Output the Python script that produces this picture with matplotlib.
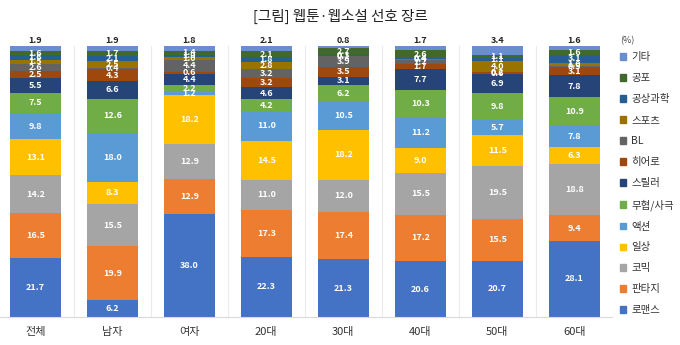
import numpy as np
import matplotlib.pyplot as plt
from matplotlib.patches import Patch

plt.rcParams['font.family'] = ['Noto Sans CJK KR', 'DejaVu Sans']

groups = ['전체', '남자', '여자', '20대', '30대', '40대', '50대', '60대']

# genre shares (%) per group, stacked bottom -> top
romance  = [21.7,  6.2, 38.0, 22.3, 21.3, 20.6, 20.7, 28.1]
fantasy  = [16.5, 19.9, 12.9, 17.3, 17.4, 17.2, 15.5,  9.4]
comic    = [14.2, 15.5, 12.9, 11.0, 12.0, 15.5, 19.5, 18.8]
daily    = [13.1,  8.3, 18.2, 14.5, 18.2,  9.0, 11.5,  6.3]
action   = [ 9.8, 18.0,  1.2, 11.0, 10.5, 11.2,  5.7,  7.8]
martial  = [ 7.5, 12.6,  2.2,  4.2,  6.2, 10.3,  9.8, 10.9]
thriller = [ 5.5,  6.6,  4.4,  4.6,  3.1,  7.7,  6.9,  7.8]
hero     = [ 2.5,  4.3,  0.6,  3.2,  3.5,  1.7,  0.6,  3.1]
bl       = [ 2.6,  0.4,  4.4,  3.2,  3.9,  1.7,  0.2,  0.5]
sports   = [ 1.5,  2.5,  1.0,  2.8,  0.1,  0.4,  4.0,  1.0]
scifi    = [ 1.6,  2.1,  1.0,  1.8,  0.3,  0.4,  1.1,  3.1]
horror   = [ 1.6,  1.7,  1.4,  2.1,  2.7,  2.6,  1.1,  1.6]
etc      = [ 1.9,  1.9,  1.8,  2.1,  0.8,  1.7,  3.4,  1.6]

genres = ['로맨스', '판타지', '코믹', '일상', '액션', '무협/사극', '스릴러',
          '히어로', 'BL', '스포츠', '공상과학', '공포', '기타']
series = [romance, fantasy, comic, daily, action, martial, thriller,
          hero, bl, sports, scifi, horror, etc]
colors = ['#4472C4', '#ED7D31', '#A5A5A5', '#FFC000', '#5B9BD5', '#70AD47',
          '#264478', '#9E480E', '#636363', '#997300', '#255E91', '#43682B',
          '#698ED0']

fig = plt.figure(figsize=(6.8, 3.45), dpi=100)
ax = fig.add_axes([0.0, 0.081, 0.9, 0.786])

x = np.arange(len(groups))
bottom = np.zeros(len(groups))
for name, vals, c in zip(genres, series, colors):
    vals = np.array(vals)
    bars = ax.bar(x, vals, 0.66, bottom=bottom, color=c, label=name)
    if name == '기타':
        for xi, b, v in zip(x, bottom, vals):
            ax.text(xi, b + v + 0.3, f'{v:.1f}', ha='center', va='bottom',
                    fontsize=6.5, fontweight='bold', color='#222222')
    else:
        for xi, b, v in zip(x, bottom, vals):
            ax.text(xi, b + v / 2, f'{v:.1f}', ha='center', va='center',
                    fontsize=6.5, fontweight='bold', color='white')
    bottom += vals

# faint separators between groups
for xs in x[:-1] + 0.5:
    ax.axvline(xs, color='#ebebeb', lw=0.8, zorder=0)

ax.set_xlim(-0.46, 7.49)
ax.set_ylim(0, 100)
ax.set_yticks([])
ax.set_xticks(x)
ax.set_xticklabels(groups, fontsize=8, color='#333333')
ax.tick_params(axis='x', length=0, pad=7)
for s in ['top', 'right', 'left']:
    ax.spines[s].set_visible(False)
ax.spines['bottom'].set_color('#d9d9d9')

fig.suptitle('[그림] 웹툰·웹소설 선호 장르', fontsize=10.5, y=0.975,
             color='#222222')

handles = [Patch(color=c) for c in colors][::-1]
fig.legend(handles, genres[::-1], loc='upper left',
           bbox_to_anchor=(0.905, 0.86), frameon=False, fontsize=7.5,
           handlelength=0.6, handleheight=0.6, handletextpad=0.5,
           labelspacing=1.05, borderaxespad=0, labelcolor='#333333')
fig.text(0.912, 0.875, '(%)', fontsize=6.5, color='#444444')

fig.savefig('out.png', dpi=100)
